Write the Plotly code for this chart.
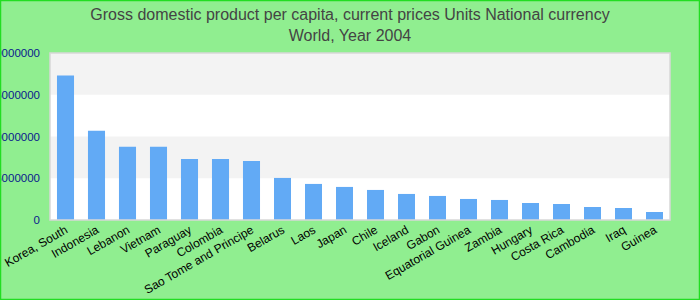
import plotly.graph_objects as go

countries = ["Korea, South", "Indonesia", "Lebanon", "Vietnam", "Paraguay", "Colombia",
             "Sao Tome and Principe", "Belarus", "Laos", "Japan", "Chile", "Iceland",
             "Gabon", "Equatorial Guinea", "Zambia", "Hungary", "Costa Rica", "Cambodia",
             "Iraq", "Guinea"]
gdp = [17300000, 10700000, 8760000, 8760000, 7320000, 7320000,
       7080000, 5040000, 4320000, 3960000, 3600000, 3120000,
       2880000, 2520000, 2400000, 2040000, 1920000, 1560000,
       1440000, 960000]
ytick_vals = [0, 5000000, 10000000, 15000000, 20000000]
ytick_text = ["0", "5000000", "10000000", "15000000", "20000000"]

fig = go.Figure(go.Bar(x=countries, y=gdp, marker_color="#62aaf5", marker_line_width=0,
                       hoverinfo="x+y"))

shapes = []
for i in range(len(ytick_vals) - 1):
    if i % 2 == 1:
        shapes.append(dict(type="rect", xref="paper", yref="y", x0=0, x1=1,
                           y0=ytick_vals[i], y1=ytick_vals[i + 1],
                           fillcolor="#f3f3f3", line_width=0, layer="below"))
# plot border
shapes.append(dict(type="rect", xref="paper", yref="paper", x0=0, x1=1, y0=0, y1=1,
                   line=dict(color="#d8d8d8", width=1.5)))
# outer page border
W, H = 700, 300
ml, mr, mt, mb = 50, 30, 53, 80
pw, ph = W - ml - mr, H - mt - mb
shapes.append(dict(type="rect", xref="paper", yref="paper",
                   x0=-ml / pw + 0.5 / pw, x1=1 + (mr - 0.5) / pw,
                   y0=-(mb - 0.5) / ph, y1=1 + (mt - 0.5) / ph,
                   line=dict(color="#22dd22", width=1.5)))

fig.update_layout(
    width=W, height=H,
    margin=dict(l=ml, r=mr, t=mt, b=mb, autoexpand=False),
    paper_bgcolor="#90ee90",
    plot_bgcolor="#ffffff",
    bargap=0.45,
    title=dict(text="Gross domestic product per capita, current prices Units National currency<br>World, Year 2004",
               x=0.5, xanchor="center", xref="container", yref="container", y=1 - 20 / H, yanchor="middle",
               font=dict(family="Liberation Sans, Arial", size=16, color="#444444")),
    xaxis=dict(tickangle=-30, tickfont=dict(family="Liberation Sans, Arial", size=12, color="#000000"),
               showgrid=False, showline=False, ticks="", automargin=False),
    yaxis=dict(range=[0, 20000000], tickvals=ytick_vals, ticktext=ytick_text,
               tickfont=dict(family="Liberation Sans, Arial", size=11.5, color="#0a1a8c"),
               showgrid=False, zeroline=False, showline=False, ticks="", ticklabelstandoff=9,
               automargin=False),
    shapes=shapes,
    showlegend=False,
)

fig.write_html("out.html", config={"displayModeBar": False},
               post_script="document.body.style.margin='0';document.body.style.overflow='hidden';")
